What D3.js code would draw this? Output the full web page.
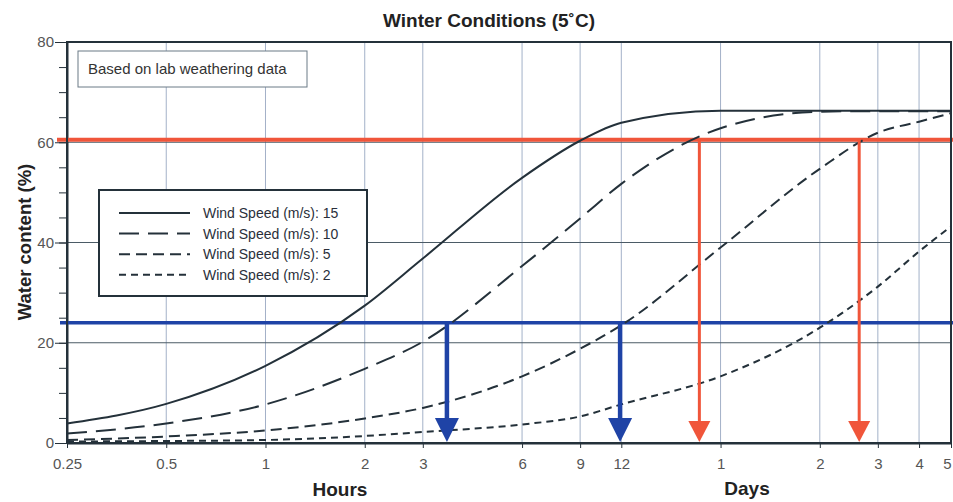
<!DOCTYPE html>
<html>
<head>
<meta charset="utf-8">
<script src="https://cdn.jsdelivr.net/npm/d3@7"></script>
<style>
  body { margin: 0; background: #fff; }
  svg { display: block; font-family: "Liberation Sans", Arial, Helvetica, sans-serif; }
</style>
</head>
<body>
<svg id="chart" width="953" height="502"></svg>
<script>
// Winter conditions drying chart

var hours = [0.25, 0.5, 1, 2, 3, 6, 9, 12, 24, 48, 72, 96, 120],
  ws15 = [3.9, 7.8, 15.4, 27.4, 36.8, 52.9, 60.3, 63.9, 66.3, 66.3, 66.3, 66.3, 66.3],
  ws10 = [1.9, 3.9, 7.7, 14.8, 20.2, 35.3, 44.8, 51.7, 62.8, 66.1, 66.2, 66.2, 66.2],
  ws5 = [0.6, 1.3, 2.5, 4.9, 7.0, 13.3, 18.8, 23.5, 39.0, 54.7, 61.9, 64.1, 65.8],
  ws2 = [0.3, 0.4, 0.6, 1.4, 2.2, 3.7, 5.3, 7.7, 13.3, 23.0, 31.2, 38.2, 43.2],
  seriesNames = ['Wind Speed (m/s): 15', 'Wind Speed (m/s): 10', 'Wind Speed (m/s): 5', 'Wind Speed (m/s): 2'],
  xTickValues = [0.25, 0.5, 1, 2, 3, 6, 9, 12, 24, 48, 72, 96, 120],
  xTickLabels = ['0.25', '0.5', '1', '2', '3', '6', '9', '12', '1', '2', '3', '4', '5'],
  yTickValues = [0, 20, 40, 60, 80],
  redLevel = 60.5,
  blueLevel = 24,
  redArrowHours = [20.7, 63.2],
  blueArrowHours = [3.55, 11.9];

var svg = d3.select('#chart');

var INK = '#24313a',
  GRID_V = '#a3b1c8',
  GRID_H = '#4b5b66',
  RED = '#f0553a',
  BLUE = '#1f43a6',
  LABEL = '#555';

var x = d3.scaleLog().domain([0.25, 120]).range([67, 951]),
  y = d3.scaleLinear().domain([0, 80]).range([443, 42]);

var series = [ws15, ws10, ws5, ws2],
  dashes = [null, '20,9', '11,6', '7,5'];

// Title
svg.append('text')
  .attr('x', 489)
  .attr('y', 27)
  .attr('text-anchor', 'middle')
  .style('font-size', '19px')
  .style('font-weight', 700)
  .attr('fill', '#222')
  .text('Winter Conditions (5\u02DAC)');

// Gridlines
svg.append('g')
  .selectAll('line')
  .data(xTickValues.slice(1, -1))
  .enter()
  .append('line')
  .attr('x1', function(d) { return x(d); })
  .attr('x2', function(d) { return x(d); })
  .attr('y1', y(80))
  .attr('y2', y(0))
  .attr('stroke', GRID_V)
  .attr('stroke-width', 1);

svg.append('g')
  .selectAll('line')
  .data(yTickValues.slice(1, -1))
  .enter()
  .append('line')
  .attr('x1', x(0.25))
  .attr('x2', x(120))
  .attr('y1', function(d) { return y(d); })
  .attr('y2', function(d) { return y(d); })
  .attr('stroke', GRID_H)
  .attr('stroke-width', 1);

// Y axis (major + minor ticks)
svg.append('g')
  .attr('transform', 'translate(' + x(0.25) + ',0)')
  .call(d3.axisLeft(y).tickValues(yTickValues).tickSize(12).tickPadding(1).tickSizeOuter(0));

svg.append('g')
  .attr('transform', 'translate(' + x(0.25) + ',0)')
  .call(d3.axisLeft(y).tickValues(d3.range(5, 80, 5)).tickSize(8).tickFormat('').tickSizeOuter(0))
  .call(function(g) { g.select('.domain').remove(); });

// X axis
svg.append('g')
  .attr('transform', 'translate(0,' + y(0) + ')')
  .call(d3.axisBottom(x).tickValues(xTickValues).tickSize(5).tickPadding(10).tickSizeOuter(0)
    .tickFormat(function(d, i) { return xTickLabels[i]; }))
  .call(function(g) {
    // last label sits on the page edge
    g.selectAll('.tick:last-of-type text').attr('dx', -4);
  });

svg.selectAll('.tick line').attr('stroke', INK);
svg.selectAll('.domain').attr('stroke', INK).attr('stroke-width', 2);
svg.selectAll('.tick text')
  .attr('fill', LABEL)
  .style('font-size', '15px')
  .style('font-family', '"Liberation Sans", Arial, sans-serif');

// Axis titles
svg.append('text')
  .attr('x', 340)
  .attr('y', 496)
  .attr('text-anchor', 'middle')
  .style('font-size', '19px')
  .style('font-weight', 700)
  .attr('fill', '#222')
  .text('Hours');

svg.append('text')
  .attr('x', 747)
  .attr('y', 495)
  .attr('text-anchor', 'middle')
  .style('font-size', '19px')
  .style('font-weight', 700)
  .attr('fill', '#222')
  .text('Days');

svg.append('text')
  .attr('transform', 'translate(31,242) rotate(-90)')
  .attr('text-anchor', 'middle')
  .style('font-size', '18.5px')
  .style('font-weight', 700)
  .attr('fill', '#222')
  .text('Water content (%)');

// Reference levels
svg.append('line')
  .attr('x1', x(0.25) - 10)
  .attr('x2', 953)
  .attr('y1', y(redLevel))
  .attr('y2', y(redLevel))
  .attr('stroke', RED)
  .attr('stroke-width', 4);

svg.append('line')
  .attr('x1', x(0.25) - 7)
  .attr('x2', 953)
  .attr('y1', y(blueLevel))
  .attr('y2', y(blueLevel))
  .attr('stroke', BLUE)
  .attr('stroke-width', 3.5);

// Curves
var line = d3.line()
  .x(function(d) { return x(d[0]); })
  .y(function(d) { return y(d[1]); })
  .curve(d3.curveMonotoneX);

svg.append('g')
  .selectAll('path')
  .data(series)
  .enter()
  .append('path')
  .attr('d', function(s) { return line(hours.map(function(h, i) { return [h, s[i]]; })); })
  .attr('fill', 'none')
  .attr('stroke', INK)
  .attr('stroke-width', 2)
  .attr('stroke-dasharray', function(d, i) { return dashes[i]; });

// Arrows
function drawArrows(list, level, color, lineW, headW, headH) {
  var g = svg.append('g');
  list.forEach(function(h) {
    var cx = x(h), tip = y(0) - 1;
    g.append('line')
      .attr('x1', cx)
      .attr('x2', cx)
      .attr('y1', y(level))
      .attr('y2', tip - headH + 2)
      .attr('stroke', color)
      .attr('stroke-width', lineW);
    g.append('path')
      .attr('d', 'M' + (cx - headW / 2) + ',' + (tip - headH) + 'L' + (cx + headW / 2) + ',' + (tip - headH) + 'L' + cx + ',' + tip + 'Z')
      .attr('fill', color);
  });
}
drawArrows(blueArrowHours, blueLevel, BLUE, 4.5, 24, 24);
drawArrows(redArrowHours, redLevel, RED, 3, 22, 21);

// Plot frame
svg.append('rect')
  .attr('x', x(0.25))
  .attr('y', y(80))
  .attr('width', x(120) - x(0.25))
  .attr('height', y(0) - y(80))
  .attr('fill', 'none')
  .attr('stroke', INK)
  .attr('stroke-width', 2);

// Note box
svg.append('rect')
  .attr('x', 78)
  .attr('y', 51)
  .attr('width', 229)
  .attr('height', 36)
  .attr('fill', '#fff')
  .attr('stroke', '#6b7a86')
  .attr('stroke-width', 1);

svg.append('text')
  .attr('x', 88)
  .attr('y', 74)
  .style('font-size', '15px')
  .attr('fill', '#333')
  .text('Based on lab weathering data');

// Legend
var legend = svg.append('g');

legend.append('rect')
  .attr('x', 99)
  .attr('y', 190)
  .attr('width', 268)
  .attr('height', 106)
  .attr('fill', '#fff')
  .attr('stroke', INK)
  .attr('stroke-width', 2);

var rows = legend.selectAll('g.row')
  .data(seriesNames)
  .enter()
  .append('g')
  .attr('class', 'row')
  .attr('transform', function(d, i) { return 'translate(0,' + (213 + i * 20.6) + ')'; });

rows.append('line')
  .attr('x1', 119)
  .attr('x2', 190)
  .attr('y1', 0)
  .attr('y2', 0)
  .attr('stroke', INK)
  .attr('stroke-width', 2)
  .attr('stroke-dasharray', function(d, i) { return dashes[i]; });

rows.append('text')
  .attr('x', 203)
  .attr('y', 5)
  .style('font-size', '14px')
  .attr('fill', '#2a2f3a')
  .text(function(d) { return d; });
</script>
</body>
</html>
